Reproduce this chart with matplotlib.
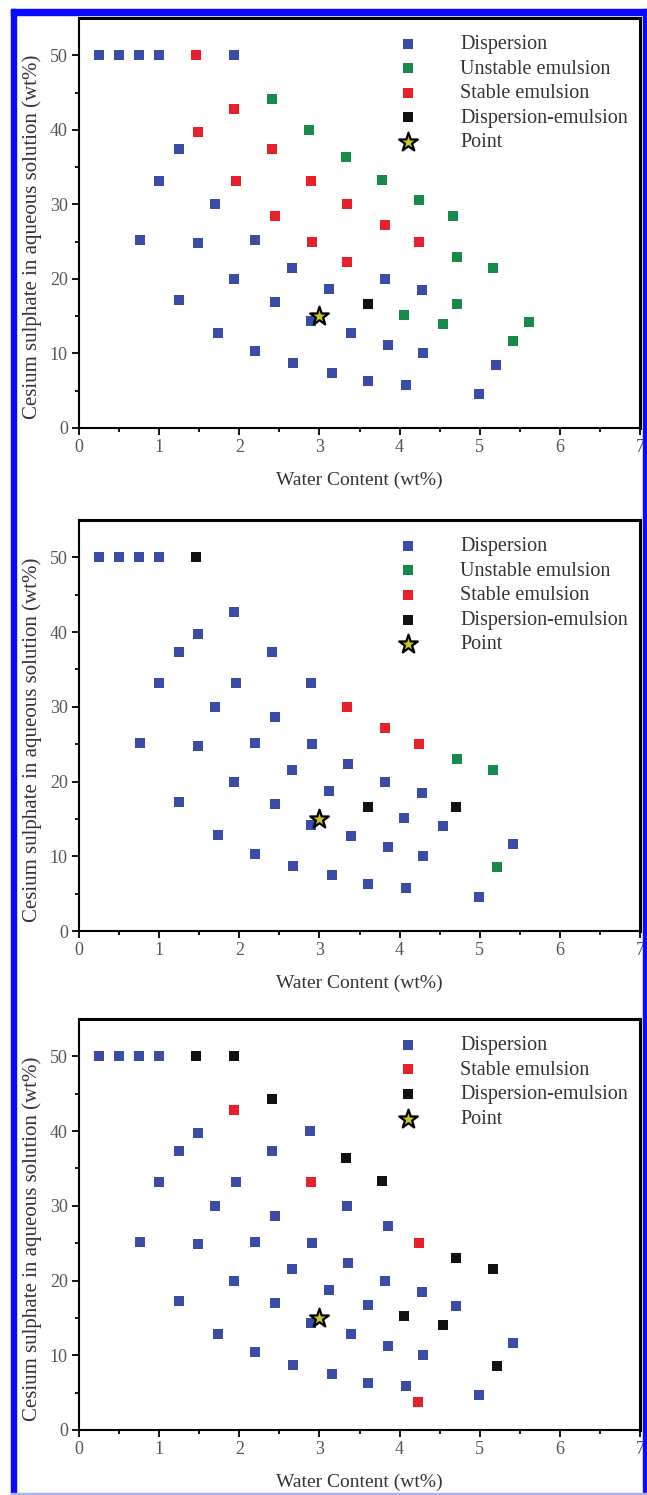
import matplotlib
matplotlib.use("Agg")
import matplotlib.pyplot as plt
from matplotlib.patches import Rectangle

plt.rcParams['font.family'] = ['Liberation Serif', 'DejaVu Serif']

# ---------------- data ----------------
# Panel 1
p1_disp_x = [0.25, 0.5, 0.75, 1.0, 1.93, 1.25, 1.0, 1.7, 0.76, 1.48, 2.19, 1.94, 2.66, 1.25, 2.44,
             3.12, 3.82, 4.28, 1.74, 2.9, 3.39, 3.85, 4.29, 2.2, 2.67, 3.16, 3.6, 4.08, 4.99, 5.2]
p1_disp_y = [50, 50, 50, 50, 50, 37.4, 33.2, 30.0, 25.2, 24.8, 25.2, 20.0, 21.5, 17.2, 16.9,
             18.7, 20.0, 18.5, 12.8, 14.3, 12.7, 11.2, 10.0, 10.3, 8.7, 7.4, 6.3, 5.75, 4.55, 8.5]
p1_unst_x = [2.41, 2.87, 3.33, 3.78, 4.24, 4.67, 4.72, 5.17, 4.72, 4.05, 4.54, 5.42, 5.61]
p1_unst_y = [44.2, 40.0, 36.4, 33.3, 30.6, 28.5, 23.0, 21.5, 16.6, 15.2, 14.0, 11.7, 14.2]
p1_stab_x = [1.46, 1.94, 1.48, 2.41, 1.96, 2.9, 2.44, 3.34, 3.82, 2.91, 4.24, 3.35]
p1_stab_y = [50, 42.8, 39.7, 37.4, 33.2, 33.2, 28.5, 30.0, 27.2, 25.0, 25.0, 22.3]
p1_de_x = [3.6]
p1_de_y = [16.6]

# Panel 2
p2_disp_x = [0.25, 0.5, 0.75, 1.0, 1.94, 1.48, 1.25, 2.41, 1.0, 1.96, 2.9, 1.7, 2.44, 0.76, 1.48,
             2.19, 2.91, 2.66, 3.36, 1.94, 3.82, 3.12, 4.28, 1.25, 2.44, 4.05, 4.54, 2.9, 1.74,
             3.39, 5.42, 3.85, 4.29, 2.2, 2.67, 3.16, 3.6, 4.08, 4.99]
p2_disp_y = [50, 50, 50, 50, 42.7, 39.7, 37.4, 37.4, 33.2, 33.2, 33.2, 30.0, 28.6, 25.2, 24.8,
             25.2, 25.0, 21.6, 22.3, 20.0, 20.0, 18.7, 18.5, 17.2, 17.0, 15.1, 14.0, 14.2, 12.8,
             12.7, 11.7, 11.2, 10.0, 10.3, 8.7, 7.5, 6.3, 5.8, 4.6]
p2_unst_x = [4.72, 5.17, 5.21]
p2_unst_y = [23.0, 21.5, 8.5]
p2_stab_x = [3.34, 3.82, 4.24]
p2_stab_y = [30.0, 27.2, 25.0]
p2_de_x = [1.46, 3.6, 4.71]
p2_de_y = [50, 16.6, 16.6]

# Panel 3
p3_disp_x = [0.25, 0.5, 0.75, 1.0, 2.88, 1.48, 1.25, 2.41, 1.0, 1.96, 1.7, 3.34, 2.44, 3.86,
             0.76, 1.48, 2.19, 2.91, 2.66, 3.36, 1.94, 3.82, 3.12, 4.28, 1.25, 2.44, 3.6, 4.71,
             2.9, 1.74, 3.39, 5.42, 3.85, 4.29, 2.2, 2.67, 3.16, 3.6, 4.08, 4.99]
p3_disp_y = [50, 50, 50, 50, 40.0, 39.7, 37.4, 37.4, 33.2, 33.2, 30.0, 30.0, 28.6, 27.3,
             25.2, 24.9, 25.2, 25.0, 21.6, 22.3, 20.0, 20.0, 18.7, 18.5, 17.2, 17.0, 16.7, 16.6,
             14.3, 12.8, 12.8, 11.7, 11.2, 10.0, 10.4, 8.7, 7.5, 6.3, 5.9, 4.7]
p3_stab_x = [1.94, 2.9, 4.24, 4.23]
p3_stab_y = [42.8, 33.2, 25.0, 3.7]
p3_de_x = [1.46, 1.93, 2.41, 3.33, 3.78, 4.71, 5.17, 4.05, 4.54, 5.21]
p3_de_y = [50, 50, 44.3, 36.4, 33.3, 23.0, 21.5, 15.2, 14.1, 8.5]

point_x = [3.0]
point_y = [15.0]

x_ticks = [0, 1, 2, 3, 4, 5, 6, 7]
y_ticks = [0, 10, 20, 30, 40, 50]
x_label = "Water Content (wt%)"
y_label = "Cesium sulphate in aqueous solution (wt%)"

# ---------------- style ----------------
C_DISP = '#3a4ca8'
C_UNST = '#17894a'
C_STAB = '#e8202c'
C_DE = '#111111'
MS = 56

W, H = 647, 1495
fig = plt.figure(figsize=(W / 100, H / 100), dpi=100)

def fx(px):
    return px / W

def fy(py):
    return 1 - py / H

ax_left = fx(79)
ax_w = fx(640) - fx(79)
panels = [(18, 428), (520, 931), (1019, 1430)]

series = [
    [(p1_disp_x, p1_disp_y, C_DISP, 'Dispersion'),
     (p1_unst_x, p1_unst_y, C_UNST, 'Unstable emulsion'),
     (p1_stab_x, p1_stab_y, C_STAB, 'Stable emulsion'),
     (p1_de_x, p1_de_y, C_DE, 'Dispersion-emulsion')],
    [(p2_disp_x, p2_disp_y, C_DISP, 'Dispersion'),
     (p2_unst_x, p2_unst_y, C_UNST, 'Unstable emulsion'),
     (p2_stab_x, p2_stab_y, C_STAB, 'Stable emulsion'),
     (p2_de_x, p2_de_y, C_DE, 'Dispersion-emulsion')],
    [(p3_disp_x, p3_disp_y, C_DISP, 'Dispersion'),
     (p3_stab_x, p3_stab_y, C_STAB, 'Stable emulsion'),
     (p3_de_x, p3_de_y, C_DE, 'Dispersion-emulsion')],
]

for (top, bot), ser in zip(panels, series):
    ax = fig.add_axes([ax_left, fy(bot), ax_w, fy(top) - fy(bot)])
    for xs, ys, c, lab in ser:
        ax.scatter(xs, ys, marker='s', s=MS, color=c, label=lab, linewidths=0, zorder=3)
    ax.scatter(point_x, point_y, marker='*', s=200, facecolor='#c8c820', edgecolor='black',
               linewidths=1.6, label='Point', zorder=4)
    ax.set_xlim(0, 7)
    ax.set_ylim(0, 55)
    ax.set_xticks(x_ticks)
    ax.set_yticks(y_ticks)
    ax.set_xticks([0.5, 1.5, 2.5, 3.5, 4.5, 5.5, 6.5], minor=True)
    ax.set_yticks([5, 15, 25, 35, 45], minor=True)
    ax.tick_params(which='major', direction='out', length=5, width=1.3, labelsize=13,
                   labelcolor='#555555', top=False, right=False, pad=3)
    ax.tick_params(which='minor', direction='out', length=3, width=1.3, top=False, right=False)
    for s in ['left', 'bottom']:
        ax.spines[s].set_linewidth(1.5)
    for s in ['top', 'right']:
        ax.spines[s].set_linewidth(2.2)
    ax.set_xlabel(x_label, fontsize=14, color='#333333', labelpad=11)
    ax.set_ylabel(y_label, fontsize=15, color='#333333', labelpad=6)
    ax.yaxis.label.set_y(0.466)
    leg = ax.legend(loc='upper left', bbox_to_anchor=(0.554, 0.978), frameon=False,
                    fontsize=14.5, handlelength=1.0, handletextpad=2.1, labelspacing=0.27,
                    borderaxespad=0, scatterpoints=1)
    for t in leg.get_texts():
        t.set_color('#333333')

# blue frame around the figure
blue = '#0a0aff'
fig.patches.append(Rectangle((fx(11), 0), fx(5), fy(9), transform=fig.transFigure,
                             color=blue, zorder=10))
fig.patches.append(Rectangle((fx(11), fy(15)), 1 - fx(11), 6 / H, transform=fig.transFigure,
                             color=blue, zorder=10))
fig.patches.append(Rectangle((fx(643), 0), fx(4), fy(9), transform=fig.transFigure,
                             color=blue, zorder=10))
fig.patches.append(Rectangle((fx(11), 0), 1 - fx(11), 2 / H, transform=fig.transFigure,
                             color='#aab0ff', zorder=10))

fig.savefig('out.png', dpi=100)
